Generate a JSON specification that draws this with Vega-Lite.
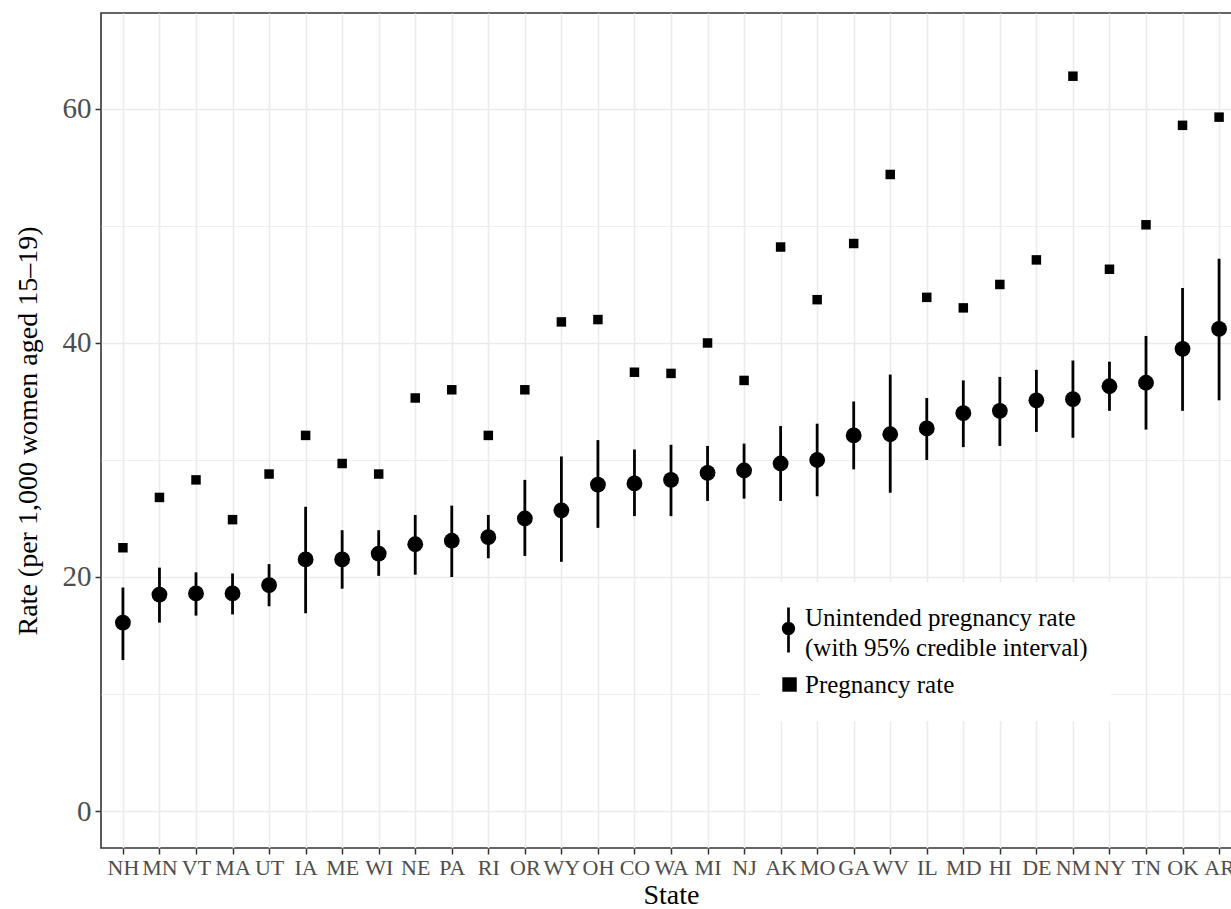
{
  "$schema": "https://vega.github.io/schema/vega-lite/v6.json",
  "autosize": {"type": "none"},
  "padding": {"left": 101, "top": 13, "right": -10, "bottom": 61},
  "width": 1140,
  "height": 835,
  "background": "white",
  "config": {
    "font": "Liberation Serif",
    "view": {"stroke": "#333333", "strokeWidth": 1.6},
    "style": {"guide-label": {"lineHeight": 30}},
    "axis": {
      "domain": false,
      "tickColor": "#333333",
      "tickWidth": 1.5,
      "tickSize": 6,
      "labelColor": "#4D4D4D",
      "titleColor": "black",
      "titleFontWeight": "normal",
      "titleFontSize": 28,
      "gridColor": "#EBEBEB"
    }
  },
  "data": {
    "values": [
      {"state": "NH", "u": 16.1, "lo": 12.9, "hi": 19.1, "p": 22.5},
      {"state": "MN", "u": 18.5, "lo": 16.1, "hi": 20.8, "p": 26.8},
      {"state": "VT", "u": 18.6, "lo": 16.7, "hi": 20.4, "p": 28.3},
      {"state": "MA", "u": 18.6, "lo": 16.8, "hi": 20.3, "p": 24.9},
      {"state": "UT", "u": 19.3, "lo": 17.5, "hi": 21.1, "p": 28.8},
      {"state": "IA", "u": 21.5, "lo": 16.9, "hi": 26.0, "p": 32.1},
      {"state": "ME", "u": 21.5, "lo": 19.0, "hi": 24.0, "p": 29.7},
      {"state": "WI", "u": 22.0, "lo": 20.1, "hi": 24.0, "p": 28.8},
      {"state": "NE", "u": 22.8, "lo": 20.2, "hi": 25.3, "p": 35.3},
      {"state": "PA", "u": 23.1, "lo": 20.0, "hi": 26.1, "p": 36.0},
      {"state": "RI", "u": 23.4, "lo": 21.6, "hi": 25.3, "p": 32.1},
      {"state": "OR", "u": 25.0, "lo": 21.8, "hi": 28.3, "p": 36.0},
      {"state": "WY", "u": 25.7, "lo": 21.3, "hi": 30.3, "p": 41.8},
      {"state": "OH", "u": 27.9, "lo": 24.2, "hi": 31.7, "p": 42.0},
      {"state": "CO", "u": 28.0, "lo": 25.2, "hi": 30.9, "p": 37.5},
      {"state": "WA", "u": 28.3, "lo": 25.2, "hi": 31.3, "p": 37.4},
      {"state": "MI", "u": 28.9, "lo": 26.5, "hi": 31.2, "p": 40.0},
      {"state": "NJ", "u": 29.1, "lo": 26.7, "hi": 31.4, "p": 36.8},
      {"state": "AK", "u": 29.7, "lo": 26.5, "hi": 32.9, "p": 48.2},
      {"state": "MO", "u": 30.0, "lo": 26.9, "hi": 33.1, "p": 43.7},
      {"state": "GA", "u": 32.1, "lo": 29.2, "hi": 35.0, "p": 48.5},
      {"state": "WV", "u": 32.2, "lo": 27.2, "hi": 37.3, "p": 54.4},
      {"state": "IL", "u": 32.7, "lo": 30.0, "hi": 35.3, "p": 43.9},
      {"state": "MD", "u": 34.0, "lo": 31.1, "hi": 36.8, "p": 43.0},
      {"state": "HI", "u": 34.2, "lo": 31.2, "hi": 37.1, "p": 45.0},
      {"state": "DE", "u": 35.1, "lo": 32.4, "hi": 37.7, "p": 47.1},
      {"state": "NM", "u": 35.2, "lo": 31.9, "hi": 38.5, "p": 62.8},
      {"state": "NY", "u": 36.3, "lo": 34.2, "hi": 38.4, "p": 46.3},
      {"state": "TN", "u": 36.6, "lo": 32.6, "hi": 40.6, "p": 50.1},
      {"state": "OK", "u": 39.5, "lo": 34.2, "hi": 44.7, "p": 58.6},
      {"state": "AR", "u": 41.2, "lo": 35.1, "hi": 47.2, "p": 59.3}
    ]
  },
  "encoding": {
    "x": {
      "field": "state",
      "type": "nominal",
      "sort": null,
      "scale": {"type": "point", "padding": 0.6},
      "axis": {
        "title": "State",
        "labelAngle": 0,
        "labelFontSize": 22,
        "labelPadding": 3,
        "titlePadding": 3,
        "grid": true,
        "gridWidth": 1.6
      }
    }
  },
  "layer": [
    {
      "mark": {"type": "rule", "color": "black", "strokeWidth": 2.8},
      "encoding": {
        "y": {
          "field": "lo",
          "type": "quantitative",
          "title": "Rate (per 1,000 women aged 15–19)",
          "scale": {"domain": [-3.16, 68.2], "nice": false, "zero": false},
          "axis": {
            "values": [0, 10, 20, 30, 40, 50, 60],
            "labelExpr": "datum.value % 20 === 0 ? datum.label : ''",
            "labelFontSize": 29,
            "labelPadding": 4,
            "titlePadding": 20,
            "tickOpacity": {"condition": {"test": "datum.value % 20 !== 0", "value": 0}, "value": 1},
            "gridWidth": {"condition": {"test": "datum.value % 20 !== 0", "value": 0.8}, "value": 1.6}
          }
        },
        "y2": {"field": "hi"}
      }
    },
    {
      "mark": {"type": "point", "shape": "circle", "filled": true, "color": "black", "opacity": 1, "size": 250},
      "encoding": {
        "y": {"field": "u", "type": "quantitative", "title": "Rate (per 1,000 women aged 15–19)"}
      }
    },
    {
      "mark": {"type": "point", "shape": "square", "filled": true, "color": "black", "opacity": 1, "size": 90},
      "encoding": {
        "y": {"field": "p", "type": "quantitative", "title": "Rate (per 1,000 women aged 15–19)"}
      }
    },
    {
      "transform": [
        {"fold": ["u", "p"], "as": ["series", "value"]}
      ],
      "mark": {"type": "point", "filled": true, "color": "black", "opacity": 0},
      "encoding": {
        "y": {"field": "value", "type": "quantitative", "title": "Rate (per 1,000 women aged 15–19)"},
        "shape": {
          "field": "series",
          "type": "nominal",
          "scale": {
            "domain": ["u", "p"],
            "range": [
              "M-0.835,-1H-0.565V3.5H-0.835ZM-0.035,1.1A0.665,0.665,0,1,1,-1.365,1.1A0.665,0.665,0,1,1,-0.035,1.1Z",
              "M-1.55,-0.85H0.15V0.85H-1.55Z"
            ]
          },
          "legend": {
            "title": null,
            "orient": "none",
            "legendX": 659,
            "legendY": 569,
            "padding": 23,
            "fillColor": "white",
            "labelFontSize": 25,
            "labelColor": "black",
            "labelOffset": -3,
            "labelLimit": 800,
            "rowPadding": 11,
            "labelExpr": "datum.value === 'u' ? ['Unintended pregnancy rate', '(with 95% credible interval)'] : 'Pregnancy rate'",
            "encode": {
              "symbols": {"opacity": {"value": 1}, "fill": {"value": "black"}, "strokeWidth": {"value": 0}},
              "labels": {"lineHeight": {"value": 30}},
              "legend": {"width": {"value": 337}}
            }
          }
        },
        "size": {
          "field": "series",
          "type": "nominal",
          "scale": {"domain": ["u", "p"], "range": [400, 289]},
          "legend": {
            "title": null,
            "orient": "none",
            "legendX": 659,
            "legendY": 569,
            "padding": 23,
            "fillColor": "white",
            "labelFontSize": 25,
            "labelColor": "black",
            "labelOffset": -3,
            "labelLimit": 800,
            "rowPadding": 11,
            "labelExpr": "datum.value === 'u' ? ['Unintended pregnancy rate', '(with 95% credible interval)'] : 'Pregnancy rate'",
            "encode": {
              "symbols": {"opacity": {"value": 1}, "fill": {"value": "black"}, "strokeWidth": {"value": 0}},
              "labels": {"lineHeight": {"value": 30}},
              "legend": {"width": {"value": 337}}
            }
          }
        }
      }
    }
  ]
}
